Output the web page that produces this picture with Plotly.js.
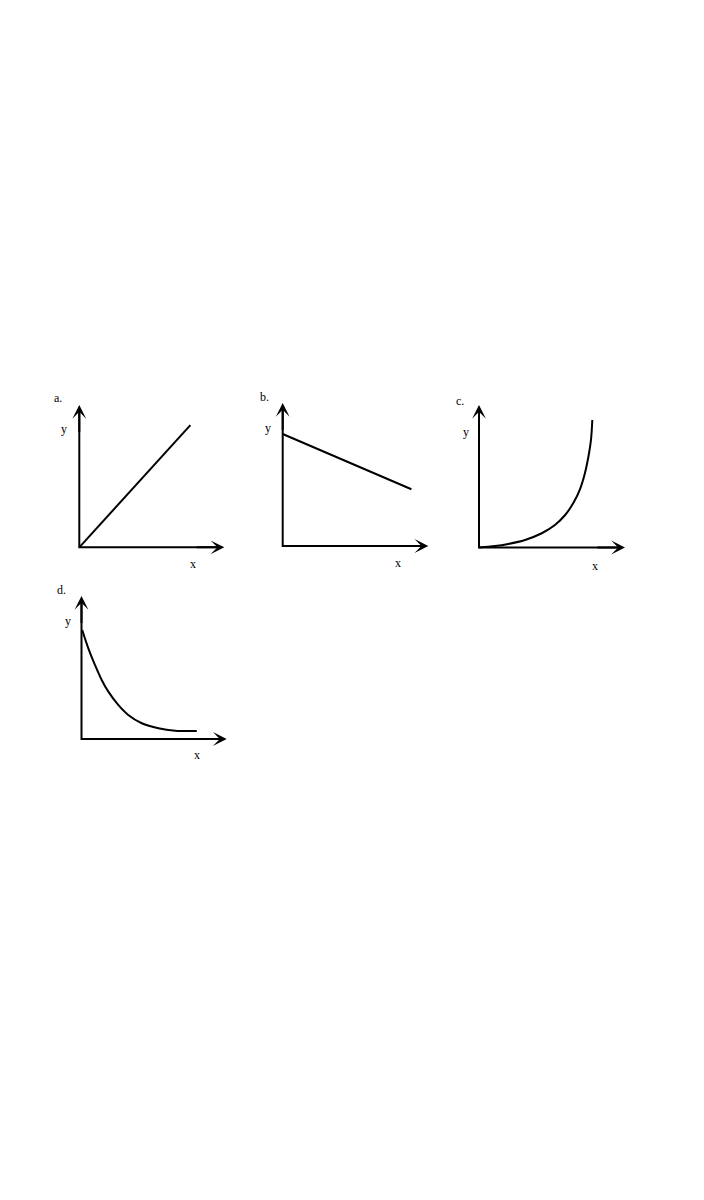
<!DOCTYPE html>
<html>
<head>
<meta charset="utf-8">
<script src="https://cdn.plot.ly/plotly-3.0.1.min.js"></script>
<style>html,body{margin:0;padding:0;background:#fff;}#chart{width:704px;height:1200px;}</style>
</head>
<body>
<div id="chart"></div>
<script>
// Panel a: straight increasing line
const aX = [0, 7.66];
const aY = [0, 8.58];
// Panel b: straight decreasing line
const bX = [0, 8.84];
const bY = [7.83, 3.97];
// Panel c: exponential growth curve
const cX = [0, 1.1, 2.0, 3.15, 4.3, 5.2, 5.9, 6.45, 6.9, 7.25, 7.5, 7.67, 7.76];
const cY = [0, 0.1, 0.25, 0.53, 1.0, 1.58, 2.28, 3.1, 4.05, 5.2, 6.4, 7.55, 8.95];
// Panel d: exponential decay curve
const dX = [0.05, 0.47, 0.93, 1.39, 1.85, 2.53, 3.22, 4.15, 5.3, 6.45, 7.94];
const dY = [7.62, 6.34, 5.17, 4.13, 3.31, 2.38, 1.68, 1.1, 0.75, 0.58, 0.56];
const panelLetters = ["a.", "b.", "c.", "d."];
const axisLabelX = "x";
const axisLabelY = "y";
const axisMax = 10;

const W = 704, H = 1200, PAD = 0.6;
// pixel frames: origin x, x arrow tip, origin y (bottom), y arrow tip
const frames = [
  {ox: 79.3, xt: 224.3, oy: 547.3, yt: 405, letter: [58, 398], ylab: [64, 429], xlab: [193, 564]},
  {ox: 282.7, xt: 428.3, oy: 546, yt: 403, letter: [264, 397], ylab: [268, 428], xlab: [398, 563]},
  {ox: 479, xt: 625, oy: 547.5, yt: 405, letter: [460, 401], ylab: [465.5, 432], xlab: [595, 566]},
  {ox: 81.5, xt: 226.7, oy: 739, yt: 596, letter: [61, 590], ylab: [67.5, 621], xlab: [197, 755]}
];
const series = [[aX, aY, 'linear'], [bX, bY, 'linear'], [cX, cY, 'spline'], [dX, dY, 'spline']];

const data = [];
const layout = {
  width: W, height: H,
  margin: {l: 0, r: 0, t: 0, b: 0},
  paper_bgcolor: '#fff', plot_bgcolor: 'rgba(0,0,0,0)',
  showlegend: false,
  annotations: []
};
const font = {family: 'Liberation Serif, Times New Roman, serif', size: 12, color: '#000'};
const blk = {color: '#000', width: 2};

frames.forEach((f, i) => {
  const n = i + 1;
  const xa = 'xaxis' + (n === 1 ? '' : n), ya = 'yaxis' + (n === 1 ? '' : n);
  const xr = 'x' + (n === 1 ? '' : n), yr = 'y' + (n === 1 ? '' : n);
  const ux = (f.xt - f.ox) / axisMax, uy = (f.oy - f.yt) / axisMax;
  layout[xa] = {domain: [(f.ox - PAD * ux) / W, (f.xt + PAD * ux) / W], range: [-PAD, axisMax + PAD],
    visible: false, fixedrange: true, anchor: yr};
  layout[ya] = {domain: [1 - (f.oy + PAD * uy) / H, 1 - (f.yt - PAD * uy) / H], range: [-PAD, axisMax + PAD],
    visible: false, fixedrange: true, anchor: xr};
  const s = series[i];
  // axes (L shape)
  data.push({x: [axisMax * 0.95, 0, 0], y: [0, 0, axisMax * 0.95], xaxis: xr, yaxis: yr, type: 'scatter',
    mode: 'lines', line: Object.assign({}, blk), hoverinfo: 'skip'});
  // curve
  data.push({x: s[0], y: s[1], xaxis: xr, yaxis: yr, type: 'scatter', mode: 'lines',
    line: Object.assign({shape: s[2], smoothing: 1}, blk), hoverinfo: 'skip'});
  // arrowheads
  const arrowBase = {xref: xr, yref: yr, axref: xr, ayref: yr, text: '',
    showarrow: true, arrowhead: 3, arrowsize: 1.15, arrowwidth: 2, arrowcolor: '#000'};
  layout.annotations.push(Object.assign({}, arrowBase, {x: axisMax, y: 0, ax: axisMax * 0.8, ay: 0}));
  layout.annotations.push(Object.assign({}, arrowBase, {x: 0, y: axisMax, ax: 0, ay: axisMax * 0.8}));
  // labels
  const lab = (txt, p) => ({xref: 'paper', yref: 'paper', x: p[0] / W, y: 1 - p[1] / H,
    text: txt, showarrow: false, font: font, xanchor: 'center', yanchor: 'middle'});
  layout.annotations.push(lab(panelLetters[i], f.letter));
  layout.annotations.push(lab(axisLabelY, f.ylab));
  layout.annotations.push(lab(axisLabelX, f.xlab));
});

Plotly.newPlot('chart', data, layout, {displayModeBar: false, staticPlot: true});
</script>
</body>
</html>
